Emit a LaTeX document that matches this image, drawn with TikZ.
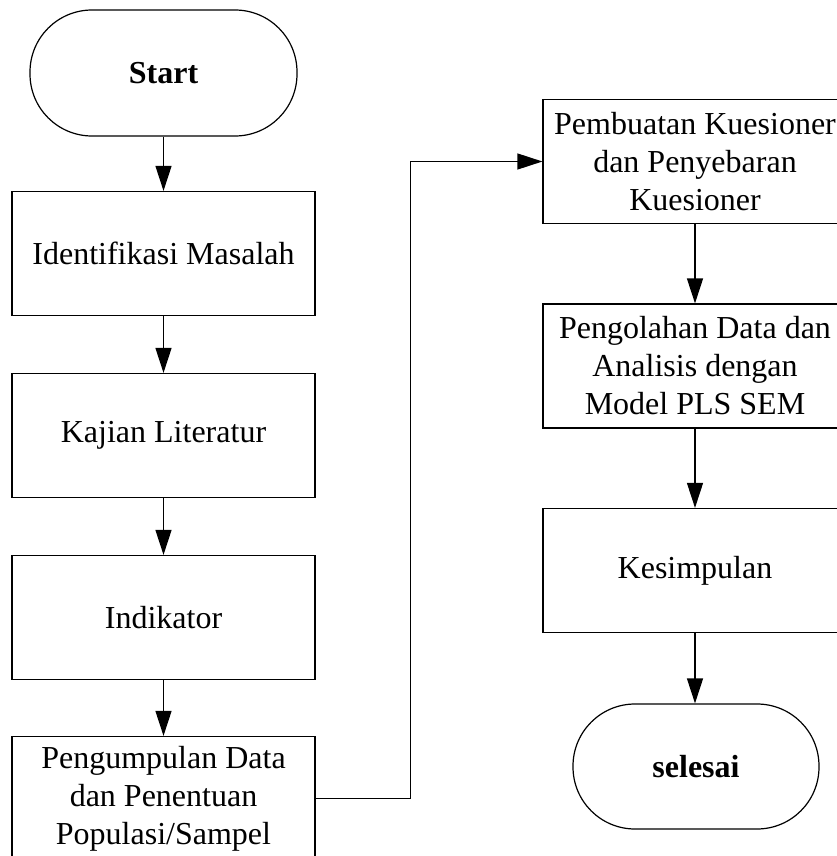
\documentclass[tikz,border=0pt]{standalone}
\usepackage{fontspec}
\setmainfont{Liberation Serif}
\usetikzlibrary{arrows.meta,positioning}

\begin{document}
\begin{tikzpicture}[x=1pt,y=-1pt,
    box/.style={draw, line width=1.2pt, minimum width=303pt, minimum height=124pt,
        align=center, inner sep=2pt, font=\fontsize{32}{38}\selectfont},
    terminal/.style={box, rounded corners=62pt, font=\fontsize{32}{38}\selectfont\bfseries},
    flow/.style={-{Triangle[length=25pt,width=16pt]}, line width=1.2pt}]
    \useasboundingbox (0,0) rectangle (837,856);
    % left column
    \node[terminal, minimum width=267pt, minimum height=126pt] (start) at (163.5,73) {Start};
    \node[box] (identifikasi) at (163.5,253.5) {Identifikasi Masalah};
    \node[box] (kajian) at (163.5,435.5) {Kajian Literatur};
    \node[box] (indikator) at (163.5,617.5) {Indikator};
    \node[box] (pengumpulan) at (163.5,798.5) {Pengumpulan Data\\dan Penentuan\\Populasi/Sampel};
    % right column
    \node[box, minimum width=304pt] (kuesioner) at (695,161.5) {Pembuatan Kuesioner\\dan Penyebaran\\Kuesioner};
    \node[box, minimum width=304pt] (pengolahan) at (695,366) {Pengolahan Data dan\\Analisis dengan\\Model PLS SEM};
    \node[box, minimum width=304pt] (kesimpulan) at (695,570.5) {Kesimpulan};
    \node[terminal, minimum width=246pt, minimum height=125pt] (selesai) at (696,766.5) {selesai};
    % connectors
    \draw[flow] (start) -- (identifikasi);
    \draw[flow] (identifikasi) -- (kajian);
    \draw[flow] (kajian) -- (indikator);
    \draw[flow] (indikator) -- (pengumpulan);
    \draw[flow] (pengumpulan.east) -- ++(95,0) |- (kuesioner.west);
    \draw[flow] (kuesioner) -- (pengolahan);
    \draw[flow] (pengolahan) -- (kesimpulan);
    \draw[flow] (kesimpulan) -- (selesai.north -| kesimpulan.south);
\end{tikzpicture}
\end{document}
